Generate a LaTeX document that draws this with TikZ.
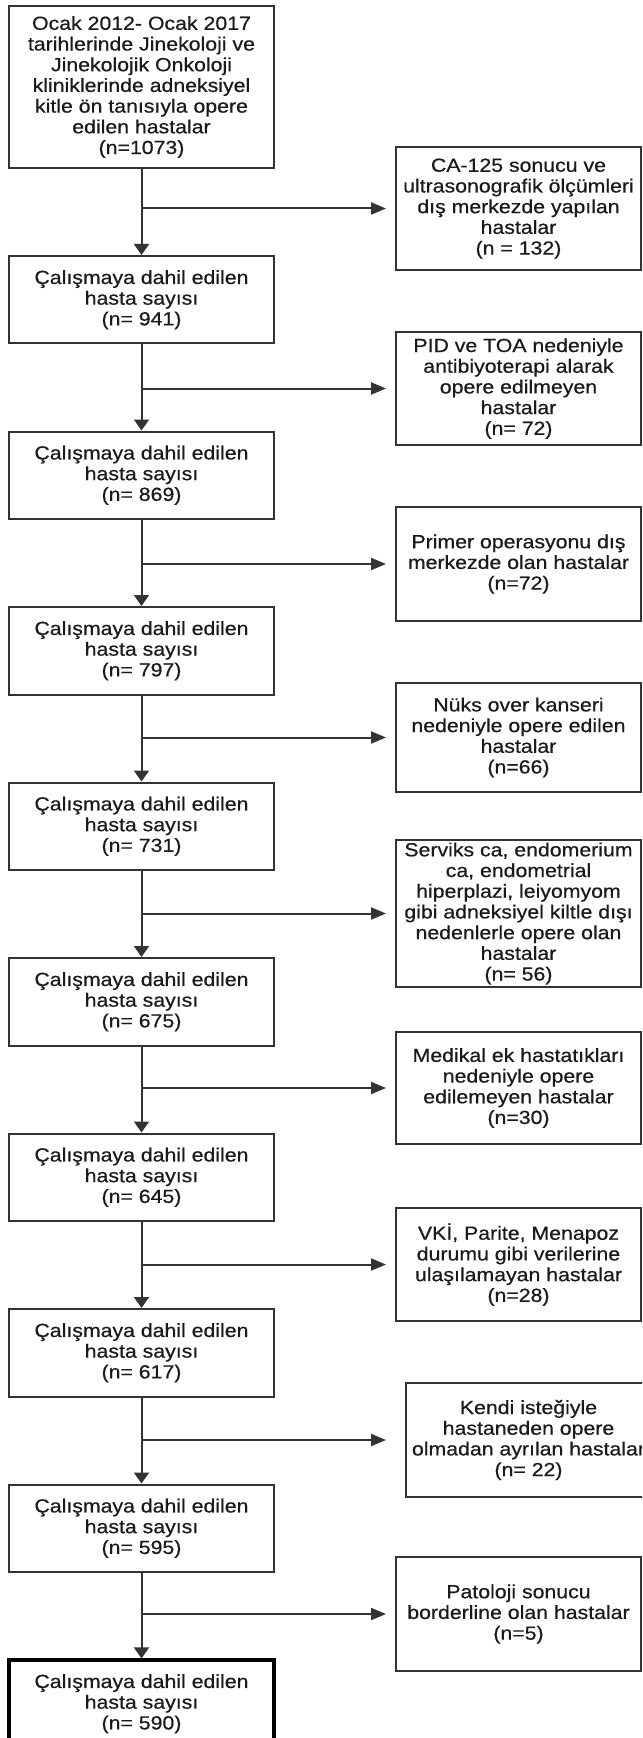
\documentclass[tikz,border=0pt]{standalone}
\usepackage{fontspec}
\setmainfont{Liberation Sans}[FakeStretch=1.12,FakeBold=0.5]
\usetikzlibrary{arrows.meta}
\definecolor{linegray}{HTML}{333333}
\definecolor{txt}{HTML}{1A1A1A}
\tikzset{
 every node/.style={font=\fontsize{9.5pt}{10.35pt}\selectfont, text=txt},
 mainbox/.style={draw=linegray, line width=1pt, minimum width=132.5pt, minimum height=43.75pt, inner sep=0pt, align=center},
 sidebox/.style={draw=linegray, line width=1pt, minimum width=122.5pt, inner sep=0pt, align=center},
 downarr/.style={draw=linegray, line width=1pt, -{Triangle[length=5.5pt,width=7.5pt]}},
 sidearr/.style={draw=linegray, line width=1pt, -{Triangle[length=7.5pt,width=6pt]}},
}
\begin{document}
\begin{tikzpicture}[x=0.5pt,y=-0.5pt]
\clip (0,0) rectangle (642,1738);
\fill[white] (0,0) rectangle (642,1738);

% main column
\node[mainbox, minimum height=81pt] (b1) at (141.5,87) {Ocak 2012- Ocak 2017\\tarihlerinde Jinekoloji ve\\Jinekolojik Onkoloji\\kliniklerinde adneksiyel\\kitle ön tanısıyla opere\\edilen hastalar\\(n=1073)};
\node[mainbox] (b2) at (141.5,299.75) {Çalışmaya dahil edilen\\hasta sayısı\\(n= 941)};
\node[mainbox] (b3) at (141.5,475.25) {Çalışmaya dahil edilen\\hasta sayısı\\(n= 869)};
\node[mainbox] (b4) at (141.5,650.75) {Çalışmaya dahil edilen\\hasta sayısı\\(n= 797)};
\node[mainbox] (b5) at (141.5,826.25) {Çalışmaya dahil edilen\\hasta sayısı\\(n= 731)};
\node[mainbox] (b6) at (141.5,1001.75) {Çalışmaya dahil edilen\\hasta sayısı\\(n= 675)};
\node[mainbox] (b7) at (141.5,1177.25) {Çalışmaya dahil edilen\\hasta sayısı\\(n= 645)};
\node[mainbox] (b8) at (141.5,1352.75) {Çalışmaya dahil edilen\\hasta sayısı\\(n= 617)};
\node[mainbox] (b9) at (141.5,1528.25) {Çalışmaya dahil edilen\\hasta sayısı\\(n= 595)};
\node[mainbox, draw=black, line width=1.6pt] (b10) at (141.5,1703.75) {Çalışmaya dahil edilen\\hasta sayısı\\(n= 590)};

% side column
\node[sidebox, minimum height=61.5pt] (s1) at (518.5,208.5) {CA-125 sonucu ve\\ultrasonografik ölçümleri\\dış merkezde yapılan\\hastalar\\(n = 132)};
\node[sidebox, minimum height=56.5pt] (s2) at (518.5,388.5) {PID ve TOA nedeniyle\\antibiyoterapi alarak\\opere edilmeyen\\hastalar\\(n= 72)};
\node[sidebox, minimum height=57pt] (s3) at (518.5,564) {Primer operasyonu dış\\merkezde olan hastalar\\(n=72)};
\node[sidebox, minimum height=54.5pt] (s4) at (518.5,737.5) {Nüks over kanseri\\nedeniyle opere edilen\\hastalar\\(n=66)};
\node[sidebox, minimum height=73.5pt] (s5) at (518.5,913.5) {Serviks ca, endomerium\\ca, endometrial\\hiperplazi, leiyomyom\\gibi adneksiyel kiltle dışı\\nedenlerle opere olan\\hastalar\\(n= 56)};
\node[sidebox, minimum height=56pt] (s6) at (518.5,1088) {Medikal ek hastatıkları\\nedeniyle opere\\edilemeyen hastalar\\(n=30)};
\node[sidebox, minimum height=56.5pt] (s7) at (518.5,1264.5) {VKİ, Parite, Menapoz\\durumu gibi verilerine\\ulaşılamayan hastalar\\(n=28)};
\node[sidebox, minimum height=57pt] (s8) at (528.5,1440) {Kendi isteğiyle\\hastaneden opere\\olmadan ayrılan hastalar\\(n= 22)};
\node[sidebox, minimum height=57pt] (s9) at (518.5,1614) {Patoloji sonucu\\borderline olan hastalar\\(n=5)};

% trunk arrows
\draw[downarr] (b1) -- (b2);
\draw[downarr] (b2) -- (b3);
\draw[downarr] (b3) -- (b4);
\draw[downarr] (b4) -- (b5);
\draw[downarr] (b5) -- (b6);
\draw[downarr] (b6) -- (b7);
\draw[downarr] (b7) -- (b8);
\draw[downarr] (b8) -- (b9);
\draw[downarr] (b9) -- (b10);

% branch arrows
\draw[sidearr] (b1.south |- s1.west) -- ([xshift=-4.5pt]s1.west);
\draw[sidearr] (b2.south |- s2.west) -- ([xshift=-4.5pt]s2.west);
\draw[sidearr] (b3.south |- s3.west) -- ([xshift=-4.5pt]s3.west);
\draw[sidearr] (b4.south |- s4.west) -- ([xshift=-4.5pt]s4.west);
\draw[sidearr] (b5.south |- s5.west) -- ([xshift=-4.5pt]s5.west);
\draw[sidearr] (b6.south |- s6.west) -- ([xshift=-4.5pt]s6.west);
\draw[sidearr] (b7.south |- s7.west) -- ([xshift=-4.5pt]s7.west);
\draw[sidearr] (b8.south |- s8.west) -- ([xshift=-9.5pt]s8.west);
\draw[sidearr] (b9.south |- s9.west) -- ([xshift=-4.5pt]s9.west);
\end{tikzpicture}
\end{document}
